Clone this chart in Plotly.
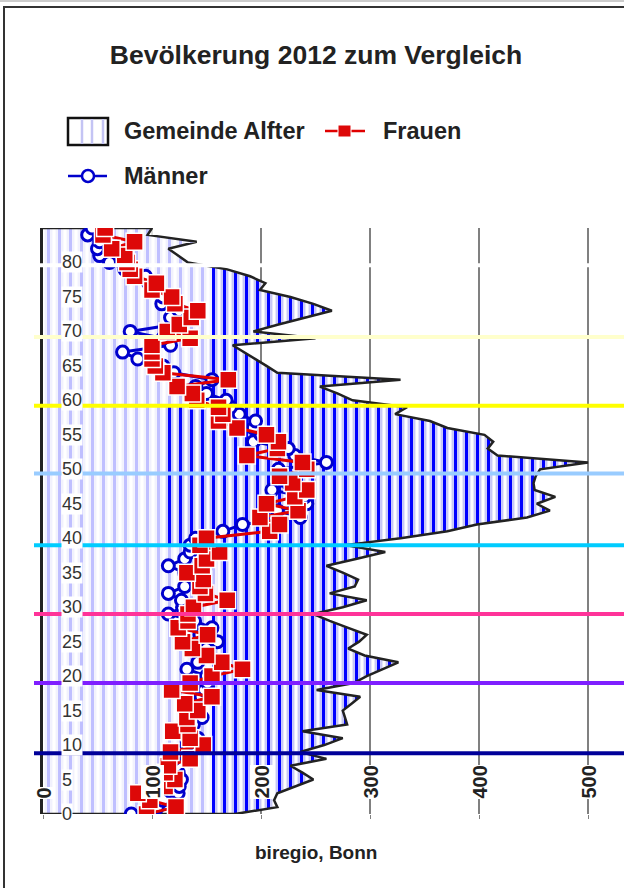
import plotly.graph_objects as go

# Alter 0..85
ages = list(range(0, 86))

# Gemeinde Alfter (Einwohner je Altersjahr)
alfter = [176, 215, 212, 215, 232, 248, 238, 227, 260, 236,
          258, 275, 238, 279, 277, 275, 283, 291, 251, 285,
          297, 312, 326, 295, 280, 290, 297, 280, 263, 248,
          275, 297, 263, 286, 289, 275, 260, 287, 314, 277,
          328, 371, 398, 444, 465, 453, 470, 451, 450, 452,
          456, 500, 417, 408, 413, 405, 371, 355, 323, 334,
          284, 270, 254, 328, 215, 205, 195, 185, 174, 250,
          193, 216, 240, 265, 248, 227, 199, 204, 190, 169,
          133, 124, 115, 141, 96, 100]

frauen = [95, 122, 98, 87, 112, 121, 112, 115, 135, 117,
          147, 135, 119, 133, 132, 142, 130, 155, 118, 135,
          155, 183, 164, 150, 137, 128, 151, 124, 133, 133,
          138, 169, 149, 144, 147, 132, 146, 150, 162, 144,
          150, 208, 217, 199, 234, 205, 231, 242, 229, 217,
          242, 238, 187, 215, 216, 205, 178, 161, 165, 161,
          141, 137, 123, 170, 110, 103, 100, 100, 100, 135,
          114, 125, 136, 142, 121, 118, 100, 104, 84, 80,
          77, 75, 63, 84, 55, 57]

maenner = [81, 105, 110, 124, 125, 127, 124, 123, 120, 125,
           132, 142, 128, 138, 146, 140, 140, 145, 148, 151,
           150, 132, 142, 148, 150, 160, 144, 155, 139, 115,
           128, 127, 115, 130, 140, 130, 115, 130, 135, 135,
           140, 165, 183, 236, 215, 242, 240, 210, 225, 220,
           216, 260, 231, 225, 193, 200, 193, 195, 180, 172,
           168, 150, 140, 155, 120, 110, 87, 73, 117, 110,
           80, 120, 117, 125, 109, 110, 102, 97, 94, 75,
           61, 52, 50, 52, 41, 45]

# Trennlinien der Altersdekaden
decade_lines = [8.8, 19.0, 29.0, 39.0, 49.4, 59.2, 69.2, 79.6]
decade_colors = ["#000099", "#7f1fff", "#ff3399", "#00ccff",
                 "#99ccff", "#ffff00", "#ffffcc", "#ffffff"]

# helle Zone links im Flächenmuster, je Dekadenband
fade_band_edges = [0, 8.8, 19.0, 29.0, 39.0, 49.4, 59.2, 69.2, 79.6, 85]
fade_band_values = [155, 155, 155, 160, 112, 112, 150, 155, 155]

x_ticks = [0, 100, 200, 300, 400, 500]
y_ticks = list(range(0, 85, 5))

W, H = 624, 888
ML, MR, MT, MB = 43, 0, 228, 74
PW, PH = W - ML - MR, H - MT - MB
XMAX = 533
FONT = "Liberation Sans, Arial, sans-serif"


def px_x(px):
    return (px - ML) / PW


def px_y(py):
    return (H - MB - py) / PH


fig = go.Figure()

# Fläche Gemeinde Alfter: Grundschraffur hell
area_x = [0] + alfter + [0]
area_y = [0] + ages + [ages[-1]]
fig.add_trace(go.Scatter(
    x=area_x, y=area_y, mode="lines", fill="tozerox",
    fillcolor="white",
    fillpattern=dict(shape="|", fgcolor="#c6c6f6", bgcolor="white",
                     size=5.5, solidity=0.45, fgopacity=1),
    line=dict(color="rgba(0,0,0,0)", width=0),
    showlegend=False, hoverinfo="skip"))

# kräftige blaue Schraffur
fig.add_trace(go.Scatter(
    x=area_x, y=area_y, mode="lines", fill="tozerox",
    fillcolor="rgba(0,0,0,0)",
    fillpattern=dict(shape="|", fgcolor="#0000ff", bgcolor="rgba(0,0,0,0)",
                     size=11, solidity=0.28, fgopacity=1),
    line=dict(color="rgba(0,0,0,0)", width=0),
    showlegend=False, hoverinfo="skip"))

# aufgehellter linker Teil (Stufenlinie über die Dekadenbänder)
fade_x, fade_y = [], []
for i, v in enumerate(fade_band_values):
    fade_x += [v, v]
    fade_y += [fade_band_edges[i], fade_band_edges[i + 1]]
fig.add_trace(go.Scatter(
    x=fade_x, y=fade_y, mode="lines", fill="tozerox",
    fillcolor="rgba(255,255,255,0.75)",
    line=dict(color="rgba(0,0,0,0)", width=0),
    showlegend=False, hoverinfo="skip"))

# Umriss
fig.add_trace(go.Scatter(
    x=area_x, y=area_y, mode="lines",
    line=dict(color="#222222", width=2.5),
    name="Gemeinde Alfter", showlegend=False))

fig.add_trace(go.Scatter(
    x=maenner, y=ages, mode="lines+markers", name="Männer",
    line=dict(color="#0000cc", width=3),
    marker=dict(symbol="circle", size=12, color="white",
                line=dict(color="#0000cc", width=3)),
    showlegend=False))

fig.add_trace(go.Scatter(
    x=frauen, y=ages, mode="lines+markers", name="Frauen",
    line=dict(color="#e00000", width=3),
    marker=dict(symbol="square", size=17, color="#dd0808",
                line=dict(color="white", width=1.5)),
    showlegend=False))

shapes = []
for yv, col in zip(decade_lines, decade_colors):
    shapes.append(dict(type="line", xref="paper", yref="y",
                       x0=px_x(34), x1=1, y0=yv, y1=yv,
                       line=dict(color=col, width=4), layer="above"))

# Rahmen und obere graue Linie
shapes.append(dict(type="rect", xref="paper", yref="paper",
                   x0=px_x(4), x1=px_x(640), y0=px_y(7), y1=px_y(900),
                   line=dict(color="#333333", width=2), layer="above"))
shapes.append(dict(type="line", xref="paper", yref="paper",
                   x0=px_x(0), x1=px_x(624), y0=px_y(1), y1=px_y(1),
                   line=dict(color="#cccccc", width=2), layer="above"))

# Legende
shapes.append(dict(type="rect", xref="paper", yref="paper",
                   x0=px_x(68), x1=px_x(108), y0=px_y(145), y1=px_y(118),
                   fillcolor="white", line=dict(color="#111111", width=2.5)))
for lx in (82, 92, 103):
    shapes.append(dict(type="line", xref="paper", yref="paper",
                       x0=px_x(lx), x1=px_x(lx), y0=px_y(144), y1=px_y(119),
                       line=dict(color="#c4c4f4", width=2.5)))
shapes.append(dict(type="line", xref="paper", yref="paper",
                   x0=px_x(325), x1=px_x(365), y0=px_y(131), y1=px_y(131),
                   line=dict(color="#e00000", width=2.5)))
shapes.append(dict(type="rect", xref="paper", yref="paper",
                   x0=px_x(338), x1=px_x(351), y0=px_y(137), y1=px_y(125),
                   fillcolor="#dd0808", line=dict(color="white", width=1)))
shapes.append(dict(type="line", xref="paper", yref="paper",
                   x0=px_x(68), x1=px_x(107), y0=px_y(176), y1=px_y(176),
                   line=dict(color="#0000cc", width=2.5)))
shapes.append(dict(type="circle", xref="paper", yref="paper",
                   x0=px_x(82), x1=px_x(94), y0=px_y(182), y1=px_y(170),
                   fillcolor="white", line=dict(color="#0000cc", width=2.5)))

annotations = []
for v in y_ticks:
    annotations.append(dict(x=0, y=v, xref="x", yref="y", text=str(v),
                            showarrow=False, xanchor="left", yanchor="middle",
                            xshift=18, font=dict(family=FONT, size=18, color="#333333"),
                            bgcolor="white", borderpad=0))
for v in x_ticks:
    annotations.append(dict(x=v, y=0, xref="x", yref="y", text=f"<b>{v}</b>",
                            showarrow=False, textangle=-90,
                            xanchor="center", yanchor="bottom", yshift=14,
                            font=dict(family=FONT, size=20, color="#222222"),
                            bgcolor="white", borderpad=0))

legend_items = [("Gemeinde Alfter", 122, 131), ("Frauen", 381, 131), ("Männer", 122, 176)]
for txt, lx, ly in legend_items:
    annotations.append(dict(x=px_x(lx), y=px_y(ly), xref="paper", yref="paper",
                            text=f"<b>{txt}</b>", showarrow=False,
                            xanchor="left", yanchor="middle",
                            font=dict(family=FONT, size=23.5, color="#222222")))

annotations.append(dict(x=px_x(316), y=px_y(852), xref="paper", yref="paper",
                        text="<b>biregio, Bonn</b>", showarrow=False,
                        xanchor="center", yanchor="middle",
                        font=dict(family="Liberation Sans Narrow, Arial Narrow, " + FONT,
                                  size=19, color="#222222")))

fig.update_layout(
    width=W, height=H,
    margin=dict(l=ML, r=MR, t=MT, b=MB),
    paper_bgcolor="white", plot_bgcolor="white",
    title=dict(text="<b>Bevölkerung 2012 zum Vergleich</b>",
               x=316 / W, xanchor="center", y=1 - 55 / H, yanchor="middle",
               font=dict(family=FONT, size=26.5, color="#222222")),
    xaxis=dict(range=[0, XMAX], showgrid=True, gridcolor="#808080", gridwidth=1.5,
               tickvals=x_ticks, showticklabels=False, zeroline=False,
               ticks="outside", ticklen=4, tickcolor="#808080", showline=False),
    yaxis=dict(range=[0, 85], showgrid=False, zeroline=False, showticklabels=False,
               showline=True, linecolor="#222222", linewidth=2.5),
    shapes=shapes, annotations=annotations, showlegend=False,
)

fig.write_html("out.html")
